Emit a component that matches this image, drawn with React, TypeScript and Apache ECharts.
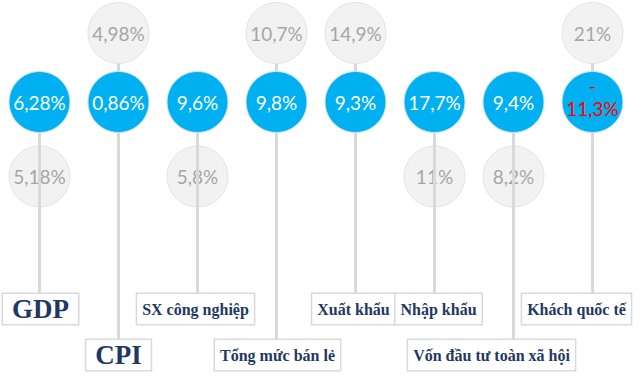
import React, { useEffect, useRef } from "react";
import * as echarts from "echarts";

// ---- data ----
const categories = [
  "GDP",
  "CPI",
  "SX công nghiệp",
  "Tổng mức bán lẻ",
  "Xuất khẩu",
  "Nhập khẩu",
  "Vốn đầu tư toàn xã hội",
  "Khách quốc tế",
];
const currentValues = [6.28, 0.86, 9.6, 9.8, 9.3, 17.7, 9.4, -11.3];
const previousValues = [5.18, 4.98, 5.8, 10.7, 14.9, 11, 8.2, 21];
const labelLevel = [0, 1, 0, 1, 0, 0, 1, 0];

// ---- layout (styling constants) ----
const ROW_ABOVE = 33;
const ROW_CURRENT = 102;
const ROW_BELOW = 176.5;
const LABEL_TOP = [294, 340];
const LABEL_DX = [1, 0, -2, 1, -2, 4, -22, -16];

const NAVY = "#1f3864";
const LINE = "#d9d9d9";

function fmt(v: number): string {
  const s = String(Math.abs(v)).replace(".", ",") + "%";
  return v < 0 ? "-\n" + s : s;
}

export default function App() {
  const ref = useRef<HTMLDivElement>(null);
  useEffect(() => {
    if (!ref.current) return;
    const chart = echarts.init(ref.current, undefined, { renderer: "svg" });

    const above = categories.map((_, i) => previousValues[i] > currentValues[i]);

    const lineData = categories.map((_, i) => [
      i,
      above[i] ? ROW_ABOVE : ROW_CURRENT,
      LABEL_TOP[labelLevel[i]],
    ]);

    const prevAboveData: any[] = [];
    const prevBelowData: any[] = [];
    categories.forEach((_, i) => {
      const item = [i, above[i] ? ROW_ABOVE : ROW_BELOW, previousValues[i]];
      (above[i] ? prevAboveData : prevBelowData).push(item);
    });

    const currentData = categories.map((_, i) => ({
      value: [i, ROW_CURRENT, currentValues[i]],
      label:
        currentValues[i] < 0
          ? { color: "#ff0000", lineHeight: 23, offset: [0, -5] }
          : { color: "#ffffff" },
    }));

    const labelData = categories.map((_, i) => [i, LABEL_TOP[labelLevel[i]], LABEL_DX[i]]);

    const grayCircle = {
      type: "scatter",
      symbol: "circle",
      symbolSize: 61,
      itemStyle: { color: "#f2f2f2", borderColor: "#e4e4e4", borderWidth: 1, opacity: 1 },
      label: {
        show: true,
        position: "inside",
        formatter: (p: any) => fmt(p.value[2]),
        color: "#a6a6a6",
        fontFamily: "Lato",
        fontSize: 19,
      },
      emphasis: { disabled: true },
      silent: true,
    };

    chart.setOption({
      animation: false,
      backgroundColor: "#ffffff",
      grid: { left: -4, width: 636, top: 0, height: 379 },
      xAxis: {
        type: "category",
        data: categories,
        show: false,
        boundaryGap: true,
      },
      yAxis: { type: "value", min: 0, max: 379, inverse: true, show: false },
      series: [
        { ...grayCircle, name: "below", data: prevBelowData, z: 1 },
        {
          type: "custom",
          name: "lines",
          z: 2,
          silent: true,
          data: lineData,
          renderItem: (params: any, api: any) => {
            const p1 = api.coord([api.value(0), api.value(1)]);
            const p2 = api.coord([api.value(0), api.value(2)]);
            return {
              type: "line",
              shape: { x1: p1[0], y1: p1[1], x2: p2[0], y2: p2[1] },
              style: { stroke: LINE, lineWidth: 3 },
            };
          },
        },
        { ...grayCircle, name: "above", data: prevAboveData, z: 3 },
        {
          type: "scatter",
          name: "current",
          z: 4,
          symbol: "circle",
          symbolSize: 61,
          silent: true,
          itemStyle: { color: "#00b0f0", borderColor: "#cfe3ee", borderWidth: 1, opacity: 1 },
          label: {
            show: true,
            position: "inside",
            formatter: (p: any) => fmt(p.value[2]),
            fontFamily: "Lato",
            fontSize: 19,
          },
          data: currentData,
        },
        {
          type: "custom",
          name: "labels",
          z: 5,
          silent: true,
          data: labelData,
          renderItem: (params: any, api: any) => {
            const idx = params.dataIndex;
            const p = api.coord([api.value(0), api.value(1)]);
            const text = categories[idx];
            const big = text.length <= 3;
            return {
              type: "text",
              x: p[0] + api.value(2),
              y: p[1],
              style: {
                text,
                align: "center",
                verticalAlign: "top",
                font: big
                  ? "bold 27px 'Liberation Serif'"
                  : "bold 16px 'Liberation Serif'",
                lineHeight: big ? 28 : 16,
                fill: NAVY,
                backgroundColor: "#ffffff",
                borderColor: LINE,
                borderWidth: 1.5,
                padding: big ? [1, 9] : [7, 5],
              },
            };
          },
        },
      ],
    });
    return () => chart.dispose();
  }, []);
  return (
    <div
      ref={ref}
      style={{ position: "fixed", left: 0, top: 0, width: 640, height: 379, background: "#fff" }}
    />
  );
}
